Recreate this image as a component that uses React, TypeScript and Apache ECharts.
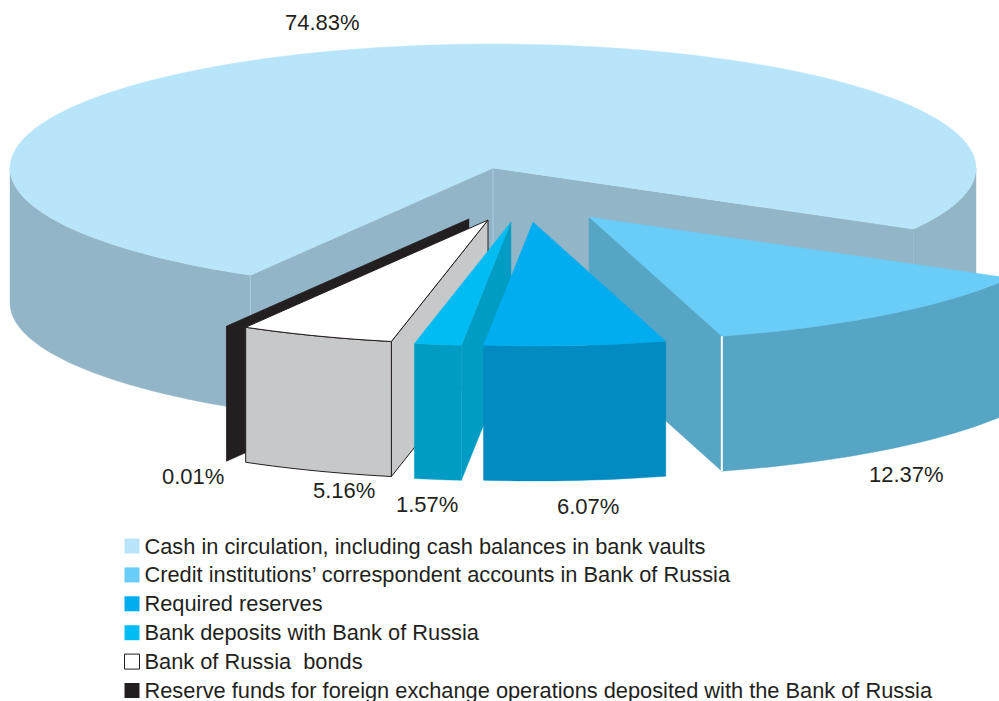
import React, { useEffect, useRef } from "react";
import * as echarts from "echarts";

const categories = [
  "Cash in circulation, including cash balances in bank vaults",
  "Credit institutions’ correspondent accounts in Bank of Russia",
  "Required reserves",
  "Bank deposits with Bank of Russia",
  "Bank of Russia  bonds",
  "Reserve funds for foreign exchange operations deposited with the Bank of Russia",
];
const shares = [74.83, 12.37, 6.07, 1.57, 5.16, 0.01];

// Styles per slice (same order as categories)
const topColors = ["#B8E5FA", "#69CDF7", "#02ADEF", "#00BCF2", "#FFFFFF", "#231F20"];
const sideColors = ["#93B5C8", "#57A5C5", "#018BC1", "#009CC4", "#C6C8CA", "#231F20"];
const outlines = [null, null, null, null, "#231F20", null];
const seamColors = ["#A9CDE0", "#FFFFFF", null, null, null, null];
const explode = [[0, 0], [96, 49], [40, 54], [18, 54], [-5, 52], [-24, 51]];
const labelAt = [[285, 22], [869, 474], [557, 506], [396, 504], [313, 490], [162, 476]];
const paintOrder = [0, 5, 4, 3, 1, 2];

const CX = 493, CY = 168, RX = 483, RY = 124, DEPTH = 135, START = 120.15;
const FONT = '22px "Liberation Sans", Arial, sans-serif';

const total = shares.reduce((a, b) => a + b, 0);
const spans = shares.reduce<number[][]>((acc, v) => {
  const from = acc.length ? acc[acc.length - 1][1] : START;
  acc.push([from, from + (v / total) * 360]);
  return acc;
}, []);

const rad = (d: number) => (d * Math.PI) / 180;

function renderSlice(i: number) {
  return (_params: any, api: any) => {
    const value = api.value(0) as number;
    const [a1, a2] = spans[i];
    const [ox, oy] = explode[i];
    const px = (a: number) => [CX + ox + RX * Math.cos(rad(a)), CY + oy + RY * Math.sin(rad(a))];
    const apex = [CX + ox, CY + oy];
    const down = (p: number[]) => [p[0], p[1] + DEPTH];
    const arc = (from: number, to: number) => {
      const pts: number[][] = [];
      for (let a = from; a < to; a += 1.5) pts.push(px(a));
      pts.push(px(to));
      return pts;
    };
    const fill = { top: topColors[i], side: sideColors[i] };
    const stroke = outlines[i];
    const children: any[] = [];
    const face = (points: number[][], color: string) =>
      children.push({
        type: "polygon",
        silent: true,
        shape: { points },
        style: { fill: color, stroke: stroke || color, lineWidth: stroke ? 1 : 0.4 },
      });
    const wall = (a: number) => face([apex, px(a), down(px(a)), down(apex)], fill.side);

    if (Math.cos(rad(a1)) < 0) wall(a1);
    if (Math.cos(rad(a2)) > 0) wall(a2);

    [[0, 180], [360, 540]].forEach(([lo, hi]) => {
      const from = Math.max(a1, lo), to = Math.min(a2, hi);
      if (to > from) {
        const edge = arc(from, to);
        face([...edge, ...edge.slice().reverse().map(down)], fill.side);
      }
    });

    face([apex, ...arc(a1, a2)], fill.top);

    const seam = seamColors[i];
    if (seam) {
      const seamAt = (p: number[]) =>
        children.push({
          type: "line",
          silent: true,
          shape: { x1: p[0], y1: p[1], x2: p[0], y2: p[1] + DEPTH },
          style: { stroke: seam, lineWidth: i === 1 ? 2 : 1 },
        });
      seamAt(px(i === 1 ? a2 : a1));
      if (i === 0) seamAt(apex);
    }

    children.push({
      type: "text",
      silent: true,
      x: labelAt[i][0],
      y: labelAt[i][1],
      style: {
        text: `${value.toFixed(2)}%`,
        font: FONT,
        fill: "#231F20",
        textAlign: "left",
        textVerticalAlign: "middle",
      },
    });
    return { type: "group", children };
  };
}

export default function App() {
  const ref = useRef<HTMLDivElement>(null);
  useEffect(() => {
    document.body.style.margin = "0";
    const chart = echarts.init(ref.current!, null, { renderer: "svg" });
    chart.setOption({
      animation: false,
      backgroundColor: "#FFFFFF",
      tooltip: { show: false },
      legend: {
        show: true,
        orient: "vertical",
        left: 124,
        top: 535,
        width: 860,
        height: 300,
        itemWidth: 15,
        itemHeight: 15,
        itemGap: 6.9,
        selectedMode: false,
        padding: 0,
        icon: "rect",
        textStyle: {
          fontFamily: '"Liberation Sans", Arial, sans-serif',
          fontSize: 21.8,
          lineHeight: 20,
          color: "#231F20",
        },
        data: categories.map((name, i) => ({
          name,
          icon: "rect",
          itemStyle: {
            color: topColors[i],
            borderColor: outlines[i] || topColors[i],
            borderWidth: outlines[i] ? 1 : 0,
          },
        })),
      },
      series: paintOrder.map((i) => ({
        type: "custom",
        name: categories[i],
        coordinateSystem: "none",
        silent: true,
        clip: false,
        itemStyle: { color: topColors[i] },
        data: [[shares[i]]],
        renderItem: renderSlice(i),
      })),
    });
    return () => chart.dispose();
  }, []);
  return <div ref={ref} style={{ width: 999, height: 701, overflow: "hidden" }} />;
}
